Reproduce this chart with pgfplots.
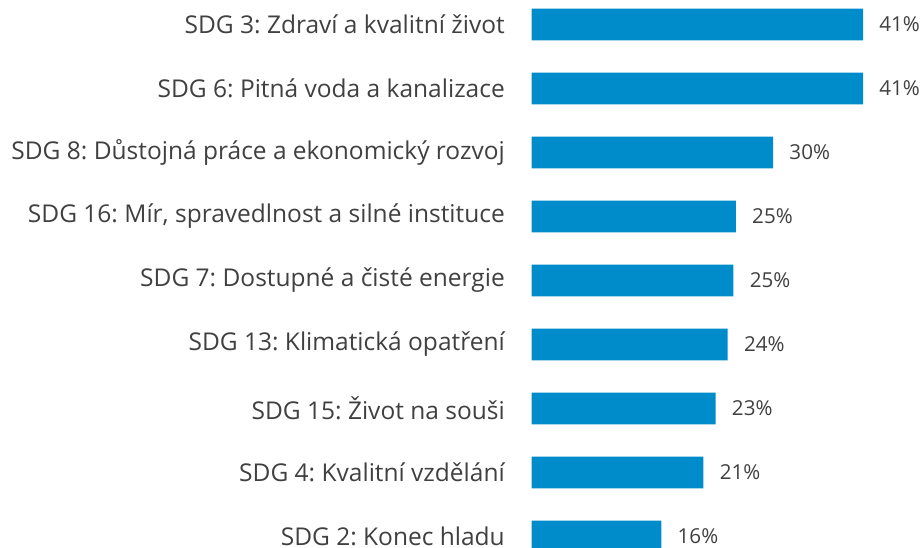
\documentclass[border=0pt]{standalone}
\usepackage{pgfplots}
\pgfplotsset{compat=1.18}
\usepackage{fontspec}
\setmainfont{Open Sans}
\frenchspacing
\definecolor{barblue}{RGB}{0,139,203}
\definecolor{txt}{RGB}{64,64,64}
\begin{document}
\begin{tikzpicture}
\begin{axis}[
  xbar,
  scale only axis,
  width=196.15pt, height=274pt,
  xmin=0, xmax=48.43,
  ymin=-0.383, ymax=8.18,
  y dir=reverse,
  axis line style={draw=none},
  tick style={draw=none},
  xtick=\empty,
  ytick={0,1,2,3,4,5,6,7,8},
  yticklabels={SDG 3: Zdraví a kvalitní život,
    SDG 6: Pitná voda a kanalizace,
    SDG 8: Důstojná práce a ekonomický rozvoj,
    {SDG 16: Mír, spravedlnost a silné instituce},
    SDG 7: Dostupné a čisté energie,
    SDG 13: Klimatická opatření,
    SDG 15: Život na souši,
    SDG 4: Kvalitní vzdělání,
    SDG 2: Konec hladu},
  yticklabel style={font=\fontsize{12.25pt}{14.5pt}\selectfont, text=txt, inner sep=0pt, xshift=-9pt},
  bar width=15.9pt,
  /pgf/number format/assume math mode=true,
  nodes near coords={\pgfmathprintnumber[fixed,precision=0]{\pgfplotspointmeta}\%},
  nodes near coords style={font=\fontsize{10.3pt}{12pt}\selectfont, text=txt, inner sep=0pt, xshift=8pt, anchor=west},
]
\addplot[fill=barblue, draw=none] coordinates {
  (40.9,0) (40.9,1) (29.8,2) (25.2,3) (24.9,4) (24.2,5) (22.7,6) (21.2,7) (16.0,8)
};
\end{axis}
\pgfresetboundingbox
\path[use as bounding box] ([xshift=-265.85pt]current axis.south west) rectangle (current axis.north east);
\end{tikzpicture}
\end{document}
